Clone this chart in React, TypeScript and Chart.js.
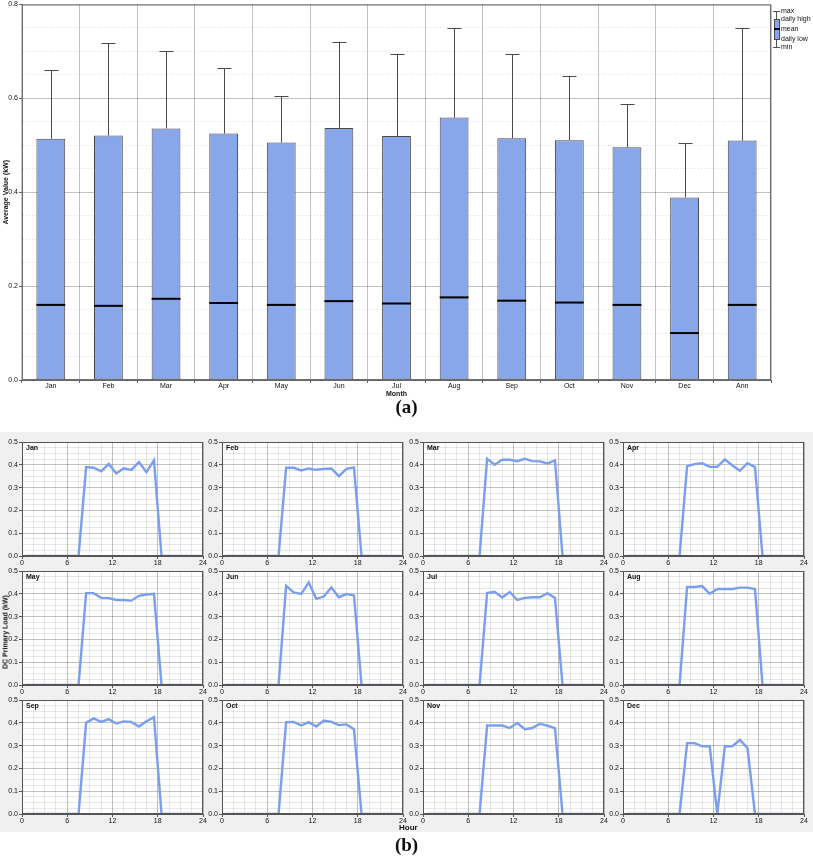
import { useEffect, useRef } from 'react'
import { Chart, ChartConfiguration, registerables } from 'chart.js'

Chart.register(...registerables)

// (a) monthly box summary
const months = ['Jan', 'Feb', 'Mar', 'Apr', 'May', 'Jun', 'Jul', 'Aug', 'Sep', 'Oct', 'Nov', 'Dec', 'Ann']
const dailyLow = [0, 0, 0, 0, 0, 0, 0, 0, 0, 0, 0, 0, 0]
const dailyHigh = [0.514, 0.521, 0.536, 0.525, 0.506, 0.537, 0.52, 0.559, 0.515, 0.511, 0.496, 0.389, 0.51]
const meanVals = [0.16, 0.158, 0.173, 0.164, 0.16, 0.168, 0.163, 0.176, 0.169, 0.165, 0.16, 0.1, 0.16]
const maxVals = [0.66, 0.718, 0.7, 0.664, 0.604, 0.721, 0.695, 0.749, 0.694, 0.648, 0.588, 0.504, 0.749]
const minVals = [0, 0, 0, 0, 0, 0, 0, 0, 0, 0, 0, 0, 0]

// (b) hourly DC primary load profiles (kW), points at mid-hour
const hourMid = [
  0.5, 1.5, 2.5, 3.5, 4.5, 5.5, 6.5, 7.5, 8.5, 9.5, 10.5, 11.5,
  12.5, 13.5, 14.5, 15.5, 16.5, 17.5, 18.5, 19.5, 20.5, 21.5, 22.5, 23.5,
]
const janLoad = [0, 0, 0, 0, 0, 0, 0, 0, 0.39, 0.387, 0.371, 0.404, 0.362, 0.385, 0.378, 0.412, 0.368, 0.419, 0, 0, 0, 0, 0, 0]
const febLoad = [0, 0, 0, 0, 0, 0, 0, 0, 0.387, 0.387, 0.375, 0.384, 0.378, 0.382, 0.384, 0.35, 0.382, 0.388, 0, 0, 0, 0, 0, 0]
const marLoad = [0, 0, 0, 0, 0, 0, 0, 0, 0.426, 0.4, 0.422, 0.422, 0.416, 0.426, 0.416, 0.415, 0.406, 0.419, 0, 0, 0, 0, 0, 0]
const aprLoad = [0, 0, 0, 0, 0, 0, 0, 0, 0.394, 0.403, 0.407, 0.391, 0.391, 0.424, 0.397, 0.374, 0.407, 0.39, 0, 0, 0, 0, 0, 0]
const mayLoad = [0, 0, 0, 0, 0, 0, 0, 0, 0.403, 0.403, 0.382, 0.381, 0.373, 0.373, 0.37, 0.391, 0.397, 0.4, 0, 0, 0, 0, 0, 0]
const junLoad = [0, 0, 0, 0, 0, 0, 0, 0, 0.435, 0.406, 0.399, 0.45, 0.378, 0.388, 0.428, 0.385, 0.399, 0.393, 0, 0, 0, 0, 0, 0]
const julLoad = [0, 0, 0, 0, 0, 0, 0, 0, 0.403, 0.409, 0.384, 0.408, 0.373, 0.382, 0.385, 0.385, 0.403, 0.382, 0, 0, 0, 0, 0, 0]
const augLoad = [0, 0, 0, 0, 0, 0, 0, 0, 0.43, 0.43, 0.434, 0.4, 0.421, 0.421, 0.421, 0.427, 0.427, 0.421, 0, 0, 0, 0, 0, 0]
const sepLoad = [0, 0, 0, 0, 0, 0, 0, 0, 0.4, 0.419, 0.404, 0.416, 0.397, 0.406, 0.404, 0.384, 0.407, 0.425, 0, 0, 0, 0, 0, 0]
const octLoad = [0, 0, 0, 0, 0, 0, 0, 0, 0.403, 0.404, 0.388, 0.403, 0.384, 0.41, 0.404, 0.39, 0.393, 0.372, 0, 0, 0, 0, 0, 0]
const novLoad = [0, 0, 0, 0, 0, 0, 0, 0, 0.388, 0.388, 0.388, 0.377, 0.399, 0.372, 0.377, 0.396, 0.387, 0.377, 0, 0, 0, 0, 0, 0]
const decLoad = [0, 0, 0, 0, 0, 0, 0, 0, 0.311, 0.311, 0.297, 0.297, 0, 0.297, 0.297, 0.325, 0.29, 0, 0, 0, 0, 0, 0, 0]

const panelNames = ['Jan', 'Feb', 'Mar', 'Apr', 'May', 'Jun', 'Jul', 'Aug', 'Sep', 'Oct', 'Nov', 'Dec']
const panelLoads = [janLoad, febLoad, marLoad, aprLoad, mayLoad, junLoad, julLoad, augLoad, sepLoad, octLoad, novLoad, decLoad]

const FONT = '"Liberation Sans", Arial, sans-serif'
const boxFill = '#88a6ea'
const boxEdge = '#4a4a4a'
const lineBlue = '#7b9ff0'
const majorGrid = 'rgba(0,0,0,0.24)'
const minorGrid = 'rgba(0,0,0,0.09)'

// panel plot-area placement
const colLefts = [22, 222, 423, 623]
const rowTops = [442, 571, 700]
const PW = 181
const PH = 114

const isStep = (v: number, step: number) => Math.abs(v / step - Math.round(v / step)) < 1e-6

const boxExtras = {
  id: 'boxExtras',
  afterDatasetsDraw(chart: any) {
    const { ctx, scales } = chart
    const y = scales.y
    const meta = chart.getDatasetMeta(0)
    ctx.save()
    meta.data.forEach((bar: any, i: number) => {
      const x = Math.round(bar.x) + 0.5
      const half = bar.width / 2
      const yHigh = y.getPixelForValue(dailyHigh[i])
      const yMax = y.getPixelForValue(maxVals[i])
      const yLow = y.getPixelForValue(dailyLow[i])
      const yMin = y.getPixelForValue(minVals[i])
      const yMean = y.getPixelForValue(meanVals[i])
      ctx.strokeStyle = boxEdge
      ctx.lineWidth = 1
      ctx.beginPath()
      ctx.moveTo(x, yHigh)
      ctx.lineTo(x, yMax)
      ctx.moveTo(x - 7, Math.round(yMax) + 0.5)
      ctx.lineTo(x + 7, Math.round(yMax) + 0.5)
      if (minVals[i] < dailyLow[i]) {
        ctx.moveTo(x, yLow)
        ctx.lineTo(x, yMin)
        ctx.moveTo(x - 7, yMin)
        ctx.lineTo(x + 7, yMin)
      }
      ctx.stroke()
      ctx.strokeStyle = '#000'
      ctx.lineWidth = 2
      ctx.beginPath()
      ctx.moveTo(bar.x - half, yMean)
      ctx.lineTo(bar.x + half, yMean)
      ctx.stroke()
    })
    const a = chart.chartArea
    ctx.strokeStyle = '#6e6e6e'
    ctx.lineWidth = 1
    ctx.strokeRect(a.left + 0.5, a.top + 0.5, a.right - a.left - 1, a.bottom - a.top - 1)
    ctx.restore()
  },
}

function BoxChart() {
  const canvasRef = useRef<HTMLCanvasElement>(null)
  const chartRef = useRef<Chart | null>(null)

  useEffect(() => {
    if (!canvasRef.current) return
    const ctx = canvasRef.current.getContext('2d')
    if (!ctx) return
    chartRef.current?.destroy()

    const config: ChartConfiguration = {
      type: 'bar',
      data: {
        labels: months,
        datasets: [
          {
            data: dailyHigh,
            backgroundColor: boxFill,
            borderColor: boxEdge,
            borderWidth: 1,
            borderSkipped: false,
            barPercentage: 0.5,
            categoryPercentage: 1,
          },
        ],
      },
      options: {
        animation: false,
        responsive: true,
        maintainAspectRatio: false,
        layout: { padding: { top: 3, right: 42, left: 0, bottom: 0 } },
        plugins: { legend: { display: false }, tooltip: { enabled: false } },
        scales: {
          x: {
            grid: { color: majorGrid, offset: true, tickLength: 3, tickColor: '#666' },
            border: { color: '#666' },
            ticks: { font: { family: FONT, size: 7, lineHeight: 1 }, color: '#111', padding: 0, maxRotation: 0 },
            title: { display: true, text: 'Month', font: { family: FONT, size: 7, weight: 'bold' }, color: '#111', padding: 0 },
            afterFit: (s: any) => { s.height = 18 },
          },
          y: {
            min: 0,
            max: 0.8,
            ticks: {
              stepSize: 0.05,
              autoSkip: false,
              font: { family: FONT, size: 7, lineHeight: 1 },
              color: '#111',
              padding: 1,
              callback: (v: any) => (isStep(Number(v), 0.2) ? Number(v).toFixed(1) : ''),
            },
            grid: {
              color: (c: any) => (c.tick && isStep(c.tick.value, 0.2) ? majorGrid : 'rgba(0,0,0,0.12)'),
              tickColor: (c: any) => (c.tick && isStep(c.tick.value, 0.2) ? '#666' : 'rgba(0,0,0,0)'),
              tickLength: 3,
            },
            border: {
              color: '#666',
              dash: (c: any) => (c.tick && !isStep(c.tick.value, 0.2) ? [1, 2] : []),
            },
            title: { display: true, text: 'Average Value (kW)', font: { family: FONT, size: 7, weight: 'bold' }, color: '#111', padding: 2 },
            afterFit: (s: any) => { s.width = 22 },
          },
        },
      },
      plugins: [boxExtras],
    }

    chartRef.current = new Chart(ctx, config)
    return () => {
      chartRef.current?.destroy()
      chartRef.current = null
    }
  }, [])

  return (
    <div style={{ position: 'absolute', left: 0, top: 0, width: 813, height: 398 }}>
      <canvas ref={canvasRef} />
    </div>
  )
}

function HourlyPanel({ name, values, left, top }: { name: string; values: number[]; left: number; top: number }) {
  const canvasRef = useRef<HTMLCanvasElement>(null)
  const chartRef = useRef<Chart | null>(null)

  useEffect(() => {
    if (!canvasRef.current) return
    const ctx = canvasRef.current.getContext('2d')
    if (!ctx) return
    chartRef.current?.destroy()

    const frame = {
      id: 'panelFrame',
      beforeDraw(chart: any) {
        const a = chart.chartArea
        chart.ctx.save()
        chart.ctx.fillStyle = '#fff'
        chart.ctx.fillRect(a.left, a.top, a.right - a.left, a.bottom - a.top)
        chart.ctx.restore()
      },
      afterDraw(chart: any) {
        const a = chart.chartArea
        const c = chart.ctx
        c.save()
        c.strokeStyle = '#555'
        c.lineWidth = 1
        c.strokeRect(a.left + 0.5, a.top + 0.5, a.right - a.left - 1, a.bottom - a.top - 1)
        c.fillStyle = '#111'
        c.font = `bold 7px ${FONT}`
        c.textBaseline = 'top'
        c.fillText(name, a.left + 4, a.top + 3)
        c.restore()
      },
    }

    const config: ChartConfiguration = {
      type: 'line',
      data: {
        datasets: [
          {
            data: hourMid.map((h, i) => ({ x: h, y: values[i] })),
            borderColor: lineBlue,
            borderWidth: 2.4,
            pointRadius: 0,
            tension: 0,
            fill: false,
          },
        ],
      },
      options: {
        animation: false,
        responsive: true,
        maintainAspectRatio: false,
        layout: { padding: { top: 5, right: 8, left: 0, bottom: 0 } },
        plugins: { legend: { display: false }, tooltip: { enabled: false } },
        scales: {
          x: {
            type: 'linear',
            min: 0,
            max: 24,
            ticks: {
              stepSize: 1.5,
              autoSkip: false,
              maxRotation: 0,
              font: { family: FONT, size: 7, lineHeight: 1 },
              color: '#111',
              padding: 1,
              callback: (v: any) => (isStep(Number(v), 6) ? String(v) : ''),
            },
            grid: {
              color: (c: any) => (c.tick && isStep(c.tick.value, 6) ? majorGrid : minorGrid),
              tickColor: (c: any) => (c.tick && isStep(c.tick.value, 6) ? '#555' : 'rgba(0,0,0,0)'),
              tickLength: 3,
            },
            border: { color: '#555' },
            afterFit: (s: any) => { s.height = 12 },
          },
          y: {
            min: 0,
            max: 0.5,
            ticks: {
              stepSize: 0.025,
              autoSkip: false,
              font: { family: FONT, size: 7, lineHeight: 1 },
              color: '#111',
              padding: 1,
              callback: (v: any) => (isStep(Number(v), 0.1) ? Number(v).toFixed(1) : ''),
            },
            grid: {
              color: (c: any) => (c.tick && isStep(c.tick.value, 0.1) ? majorGrid : minorGrid),
              tickColor: (c: any) => (c.tick && isStep(c.tick.value, 0.1) ? '#555' : 'rgba(0,0,0,0)'),
              tickLength: 3,
            },
            border: { color: '#555' },
            afterFit: (s: any) => { s.width = 22 },
          },
        },
      },
      plugins: [frame],
    }

    chartRef.current = new Chart(ctx, config)
    return () => {
      chartRef.current?.destroy()
      chartRef.current = null
    }
  }, [name, values])

  return (
    <div style={{ position: 'absolute', left: left - 22, top: top - 5, width: 22 + PW + 8, height: 5 + PH + 12 }}>
      <canvas ref={canvasRef} />
    </div>
  )
}

const legendText: React.CSSProperties = {
  position: 'absolute',
  left: 781,
  font: `7px ${FONT}`,
  color: '#111',
  lineHeight: '8px',
  whiteSpace: 'nowrap',
}

export default function App() {
  useEffect(() => {
    document.body.style.margin = '0'
  }, [])

  return (
    <div style={{ position: 'relative', width: 813, height: 862, background: '#fff', overflow: 'hidden' }}>
      <BoxChart />

      {/* legend for (a) */}
      <div style={{ position: 'absolute', left: 773, top: 11, width: 7, height: 1, background: '#555' }} />
      <div style={{ position: 'absolute', left: 776, top: 11, width: 1, height: 8, background: '#555' }} />
      <div style={{ position: 'absolute', left: 774, top: 19, width: 4, height: 19, background: boxFill, border: '1px solid #4a4a4a' }} />
      <div style={{ position: 'absolute', left: 774, top: 28, width: 6, height: 2, background: '#000' }} />
      <div style={{ position: 'absolute', left: 776, top: 40, width: 1, height: 7, background: '#555' }} />
      <div style={{ position: 'absolute', left: 773, top: 47, width: 7, height: 1, background: '#555' }} />
      <div style={{ ...legendText, top: 7 }}>max</div>
      <div style={{ ...legendText, top: 15 }}>daily high</div>
      <div style={{ ...legendText, top: 25 }}>mean</div>
      <div style={{ ...legendText, top: 35 }}>daily low</div>
      <div style={{ ...legendText, top: 43 }}>min</div>

      <div style={{ position: 'absolute', left: 0, top: 396, width: 813, textAlign: 'center', font: 'bold 19px "Liberation Serif", "Times New Roman", serif', color: '#111' }}>
        (a)
      </div>

      {/* (b) panels */}
      <div style={{ position: 'absolute', left: 0, top: 432, width: 813, height: 400, background: '#f0f0f0' }} />
      {panelNames.map((name, i) => (
        <HourlyPanel key={name} name={name} values={panelLoads[i]} left={colLefts[i % 4]} top={rowTops[Math.floor(i / 4)]} />
      ))}
      <div
        style={{
          position: 'absolute',
          left: 5,
          top: 632,
          transform: 'translate(-50%, -50%) rotate(-90deg)',
          font: `bold 7px ${FONT}`,
          color: '#111',
          whiteSpace: 'nowrap',
        }}
      >
        DC Primary Load (kW)
      </div>
      <div style={{ position: 'absolute', left: 399, top: 823, font: `bold 8px ${FONT}`, color: '#111' }}>Hour</div>

      <div style={{ position: 'absolute', left: 0, top: 834, width: 813, textAlign: 'center', font: 'bold 19px "Liberation Serif", "Times New Roman", serif', color: '#111' }}>
        (b)
      </div>
    </div>
  )
}
